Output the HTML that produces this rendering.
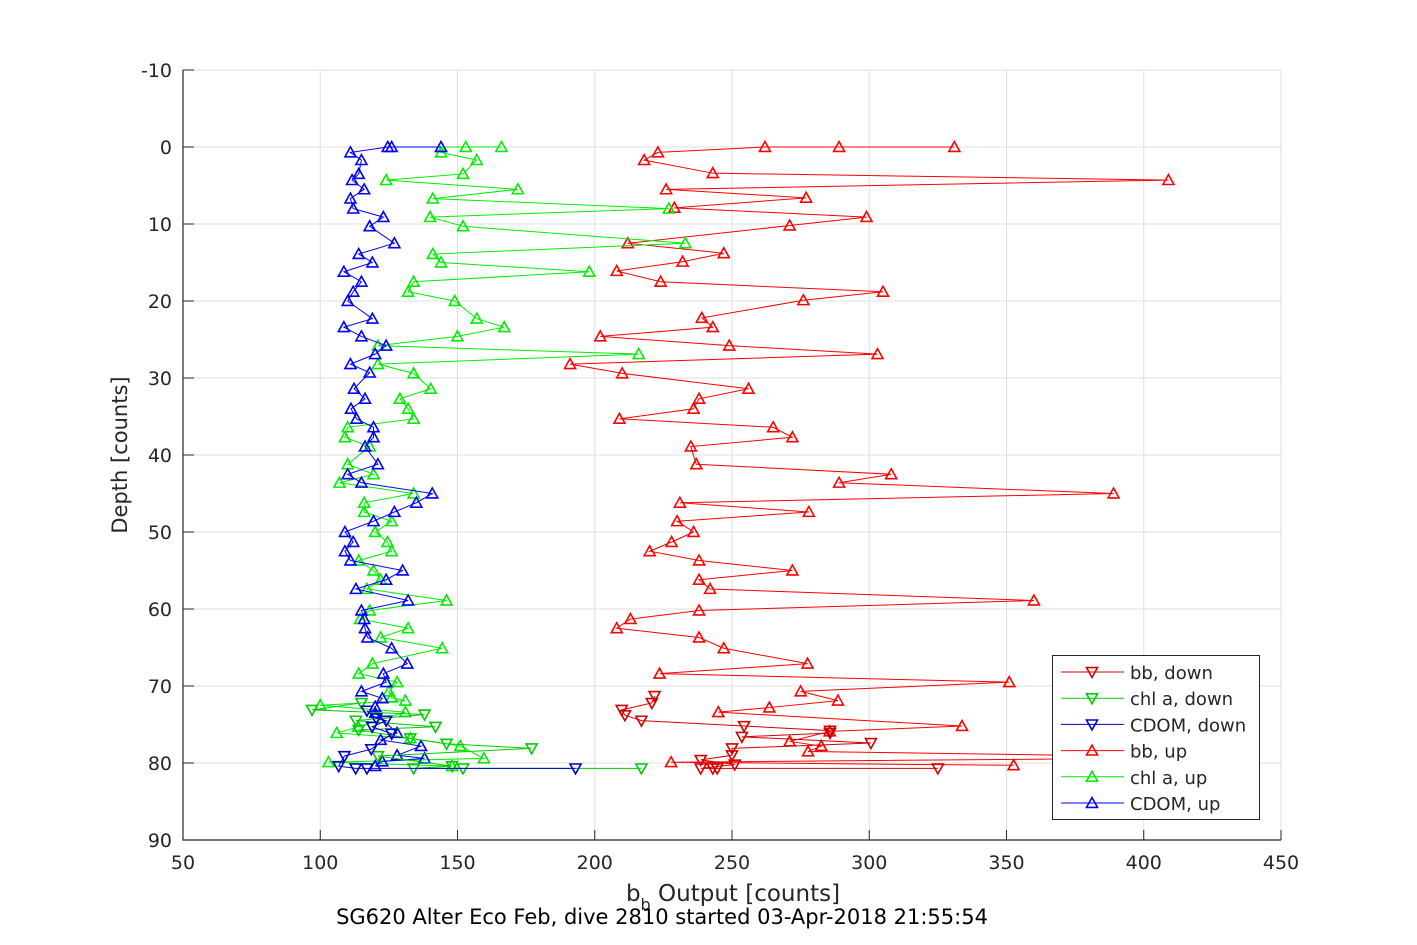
<!DOCTYPE html>
<html><head><meta charset="utf-8"><style>
body{margin:0;background:#fff;}
svg{display:block;font-family:"DejaVu Sans","Liberation Sans",sans-serif;}
</style></head><body>
<svg id="chart" width="1417" height="945" xmlns="http://www.w3.org/2000/svg"></svg>
<script>
const xTicks=[50,100,150,200,250,300,350,400,450];
const yTicks=[-10,0,10,20,30,40,50,60,70,80,90];
// bb up
const bbUpX=[331,289,262,223,218,243,409,226,277,229,299,271,212,247,232,208,224,305,276,239,243,202,249,303,191,210,256,238,236,209,265,272,235,237,308,289,389,231,278,230,236,228,220,238,272,238,242,360,238,213,208,238,247,277.5,223.6,351,275,288.6,263.6,245,333.8,285.6,271,282.5,277.7,430,227.8,352.6];
const bbUpD=[0,0,0,0.7,1.7,3.4,4.3,5.5,6.6,7.9,9.1,10.2,12.5,13.8,14.9,16.1,17.5,18.8,19.9,22.2,23.4,24.6,25.8,26.9,28.2,29.4,31.4,32.7,34,35.3,36.4,37.7,38.9,41.2,42.5,43.6,45,46.2,47.4,48.6,50,51.3,52.5,53.7,55,56.2,57.4,58.9,60.2,61.3,62.5,63.7,65.1,67.1,68.4,69.5,70.7,71.9,72.8,73.4,75.2,75.9,77.2,77.8,78.5,79.3,79.9,80.3];
// chl up
const chlUpX=[166,153,144,144,157,152,124,172,141,227,140,152,233,141,144,198,134,132,149,157,167,150,121,216,121,134,140.2,129,132,134,110,109,118,110,119.4,107,134,116,116,126,120,124.5,126,114,119.4,122,117,146,118,114.5,132,122,144.4,119,114,128,125,126,131,100,131,113.8,106,132.8,151,159.6,103,148];
const chlUpD=[0,0,0,0.7,1.7,3.5,4.3,5.5,6.7,8,9.1,10.3,12.5,13.9,15,16.2,17.5,18.8,20,22.3,23.4,24.6,25.8,26.9,28.2,29.4,31.4,32.7,34,35.3,36.4,37.7,38.9,41.2,42.5,43.6,45,46.2,47.4,48.6,50,51.3,52.5,53.7,55,56.2,57.4,58.9,60.2,61.3,62.5,63.7,65.1,67.1,68.4,69.5,70.7,71.5,71.9,72.5,73.4,75.3,76.1,76.8,77.8,79.4,79.9,80.4];
// cdom up
const cdomUpX=[144,126,124.6,111,115,114,111.6,116,111,112,123,118,127,114,119,108.6,115,112,110,119,108.6,115,124,120,111,118,112.3,116.3,111.2,113.2,119.4,119.4,116.3,121,110,115,140.8,135,127,119.4,109,112,109,111,130,124,113,132,115,116,116.3,117.2,126,131.7,123,124,115,122.6,120,120,128,122,136.7,128,138,122.6,120];
const cdomUpD=[0,0,0,0.7,1.7,3.5,4.3,5.5,6.7,8,9.1,10.3,12.5,13.9,15,16.2,17.5,18.8,20,22.3,23.4,24.6,25.8,26.9,28.2,29.3,31.4,32.7,34,35.3,36.4,37.7,38.9,41.2,42.5,43.6,45,46.2,47.4,48.6,50,51.3,52.5,53.7,55,56.2,57.4,58.9,60.2,61.3,62.5,63.7,65.1,67.1,68.4,69.5,70.7,71.6,72.7,73.5,76.1,77,77.8,79,79.4,79.8,80.4];
// down casts
const bbDownX=[221.8,220.8,209.8,211,217,254.4,285.7,285.7,253.6,300.6,250,250,238.6,251,238.6,243,244.6,325];
const bbDownD=[71.3,72.2,73.1,73.8,74.5,75.2,75.8,76.1,76.6,77.4,78.1,79,79.6,80.2,80.7,80.7,80.7,80.7];
const chlDownX=[115,97,138,113,142,114,132.8,146,177,121,148,134,152,217];
const chlDownD=[72.2,73.1,73.7,74.5,75.3,75.7,76.8,77.5,78.1,79.1,80.4,80.7,80.7,80.7];
const cdomDownX=[117,120.4,124,118.9,126,118.6,108.8,106.7,112.9,117,193];
const cdomDownD=[73.2,74.2,74.5,75.3,76.2,78.2,79.1,80.4,80.7,80.7,80.7];

const L=183,R=1281,T=70,B=840;
const xs=v=>L+(v-50)/400*(R-L);
const ys=d=>T+(d+10)/100*(B-T);
const svg=document.getElementById('chart');
const NS='http://www.w3.org/2000/svg';
function mk(tag,attrs,parent){const e=document.createElementNS(NS,tag);for(const k in attrs)e.setAttribute(k,attrs[k]);(parent||svg).appendChild(e);return e;}

const grid=mk('g',{});


xTicks.forEach(v=>{
  const l=mk('line',{x1:xs(v),x2:xs(v),y1:T,y2:B,stroke:'#dfdfdf','stroke-width':1},grid);
  
  
  const t=mk('text',{x:xs(v),y:B+29,'text-anchor':'middle','font-size':19,fill:'#262626'});
  t.textContent=v;
  
  
  const tk=mk('line',{x1:xs(v),x2:xs(v),y1:B,y2:B-10,stroke:'#262626'});
  
  
});
yTicks.forEach(v=>{
  const l=mk('line',{x1:L,x2:R,y1:ys(v),y2:ys(v),stroke:'#dfdfdf','stroke-width':1},grid);
  
  
  const t=mk('text',{x:L-11,y:ys(v)+7,'text-anchor':'end','font-size':19,fill:'#262626'});
  t.textContent=v;
  
  
  const tk=mk('line',{x1:L,x2:L+11,y1:ys(v),y2:ys(v),stroke:'#262626'});
  
  
});
const ax=mk('path',{d:`M${L},${T}V${B}H${R}`,fill:'none',stroke:'#262626','stroke-width':1.2});



function tri(cx,cy,down,col,parent){
  const s=5.5;
  const p=down?`${cx-s},${cy-s*0.8} ${cx+s},${cy-s*0.8} ${cx},${cy+s}`:`${cx-s},${cy+s*0.8} ${cx+s},${cy+s*0.8} ${cx},${cy-s}`;
  return mk('polygon',{points:p,fill:'none',stroke:col,'stroke-width':1.6},parent);
}
function series(X,D,col,down,name){
  const g=mk('g',{});
  
  
  const pts=X.map((v,i)=>xs(v)+','+ys(D[i])).join(' ');
  mk('polyline',{points:pts,fill:'none',stroke:col,'stroke-width':1},g);
  X.forEach((v,i)=>{
    const m=tri(xs(v),ys(D[i]),down,col,g);
    
    
  });
}
series(bbUpX,bbUpD,'#ff0000',false,'bb-up-series');
series(chlUpX,chlUpD,'#00ee00',false,'chl-up-series');
series(cdomUpX,cdomUpD,'#0000ff',false,'cdom-up-series');
series(bbDownX,bbDownD,'#d40000',true,'bb-down-series');
series(chlDownX,chlDownD,'#00cc00',true,'chl-down-series');
series(cdomDownX,cdomDownD,'#0000cc',true,'cdom-down-series');

// legend
const lg=mk('g',{});


mk('rect',{x:1052.5,y:655.5,width:207,height:164,fill:'#fff',stroke:'#262626','stroke-width':1},lg);
const legNames=['bb, down','chl a, down','CDOM, down','bb, up','chl a, up','CDOM, up'];
const legCols=['#d40000','#00cc00','#0000cc','#ff0000','#00ee00','#0000ff'];
legNames.forEach((n,i)=>{
  const y=672+i*26.2;
  const e=mk('g',{},lg);
  
  
  mk('line',{x1:1061,x2:1124,y1:y,y2:y,stroke:legCols[i],'stroke-width':1},e);
  tri(1092,y,i<3,legCols[i],e);
  const t=mk('text',{x:1130,y:y+7,'font-size':18,fill:'#262626'},e);
  t.textContent=n;
});

const xl=mk('text',{x:733,y:901,'text-anchor':'middle','font-size':23,fill:'#262626'});


xl.innerHTML='b<tspan dy="9" font-size="16">b</tspan><tspan dy="-9"> Output [counts]</tspan>';
const yl=mk('text',{x:0,y:0,'text-anchor':'middle','font-size':21,fill:'#262626',transform:'translate(127,455) rotate(-90)'});
yl.textContent='Depth [counts]';


const tt=mk('text',{x:662,y:924,'text-anchor':'middle','font-size':21,fill:'#000'});
tt.textContent='SG620 Alter Eco Feb, dive 2810 started 03-Apr-2018 21:55:54';


</script>
</body></html>
